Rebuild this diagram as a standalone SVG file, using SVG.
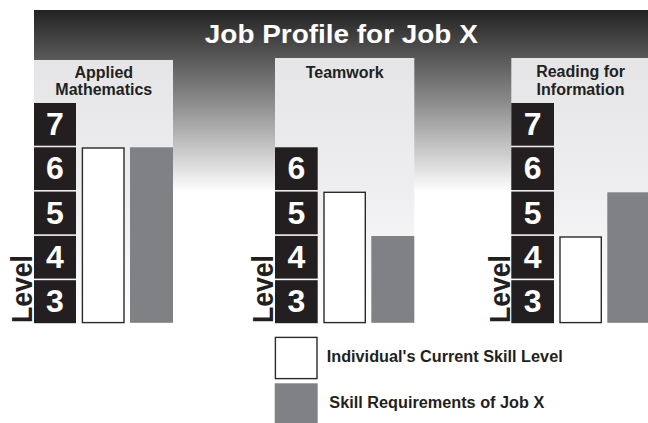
<svg xmlns="http://www.w3.org/2000/svg" width="648" height="423" viewBox="0 0 648 423">
<defs>
<linearGradient id="bg" x1="0" y1="10" x2="0" y2="192" gradientUnits="userSpaceOnUse">
<stop offset="0" stop-color="#222222"/>
<stop offset="0.5" stop-color="#8a8a8b"/>
<stop offset="0.8" stop-color="#cfcfd0"/>
<stop offset="1" stop-color="#ffffff"/>
</linearGradient>
<linearGradient id="pn" x1="0" y1="58" x2="0" y2="323" gradientUnits="userSpaceOnUse">
<stop offset="0" stop-color="#e5e5e7"/>
<stop offset="0.5" stop-color="#eeeef0"/>
<stop offset="1" stop-color="#ffffff"/>
</linearGradient>
</defs>
<style>
.lv{fill:#231f20}
.dg{font-family:"Liberation Sans",Arial,sans-serif;font-weight:bold;font-size:32px;fill:#ffffff;text-anchor:middle}
.hd{font-family:"Liberation Sans",Arial,sans-serif;font-weight:bold;font-size:16px;fill:#231f20;text-anchor:middle}
.lvl{font-family:"Liberation Sans",Arial,sans-serif;font-weight:bold;font-size:30px;fill:#231f20}
.cur{fill:#ffffff;stroke:#2a2a2a;stroke-width:1.4}
.req{fill:#808184}
.lg{font-family:"Liberation Sans",Arial,sans-serif;font-weight:bold;font-size:16px;fill:#231f20}
</style>
<rect x="0" y="0" width="648" height="423" fill="#ffffff"/>
<g id="banner">
<rect x="34" y="10" width="614" height="185" fill="url(#bg)"/>
<text x="341.3" y="43" font-family="'Liberation Sans',Arial,sans-serif" font-weight="bold" font-size="26" fill="#ffffff" text-anchor="middle" textLength="273" lengthAdjust="spacingAndGlyphs">Job Profile for Job X</text>
</g>
<g id="panel-applied-mathematics">
<rect x="34" y="60" width="139" height="263" fill="url(#pn)"/>
<text class="hd" x="103.8" y="77.5">Applied</text>
<text class="hd" x="103.8" y="95">Mathematics</text>
<rect class="lv" x="34" y="103" width="42" height="42.7"/>
<rect class="lv" x="34" y="147.3" width="42" height="42.7"/>
<rect class="lv" x="34" y="191.6" width="42" height="42.7"/>
<rect class="lv" x="34" y="235.9" width="42" height="42.7"/>
<rect class="lv" x="34" y="280.2" width="42" height="43"/>
<text class="dg" x="55" y="135">7</text>
<text class="dg" x="55" y="179.3">6</text>
<text class="dg" x="55" y="223.6">5</text>
<text class="dg" x="55" y="267.9">4</text>
<text class="dg" x="55" y="312.2">3</text>
<text class="lvl" transform="translate(32,323) rotate(-90)" textLength="68" lengthAdjust="spacingAndGlyphs">Level</text>
<rect class="cur" x="82.4" y="148" width="41.6" height="174.6"/>
<rect class="req" x="130" y="147.3" width="43" height="175.5"/>
</g>
<g id="panel-teamwork">
<rect x="275" y="58" width="139.3" height="265" fill="url(#pn)"/>
<text class="hd" x="344.7" y="78.3">Teamwork</text>
<rect class="lv" x="275" y="147.3" width="42.7" height="42.7"/>
<rect class="lv" x="275" y="191.6" width="42.7" height="42.7"/>
<rect class="lv" x="275" y="235.9" width="42.7" height="42.7"/>
<rect class="lv" x="275" y="280.2" width="42.7" height="43"/>
<text class="dg" x="296.3" y="179.3">6</text>
<text class="dg" x="296.3" y="223.6">5</text>
<text class="dg" x="296.3" y="267.9">4</text>
<text class="dg" x="296.3" y="312.2">3</text>
<text class="lvl" transform="translate(273.3,323) rotate(-90)" textLength="68" lengthAdjust="spacingAndGlyphs">Level</text>
<rect class="cur" x="324" y="192.3" width="41.3" height="130.3"/>
<rect class="req" x="371.3" y="236" width="43" height="86.8"/>
</g>
<g id="panel-reading-for-information">
<rect x="511.3" y="58" width="138.7" height="265" fill="url(#pn)"/>
<text class="hd" x="580.6" y="77.3">Reading for</text>
<text class="hd" x="580.6" y="94.5">Information</text>
<rect class="lv" x="511.3" y="103" width="42.7" height="42.7"/>
<rect class="lv" x="511.3" y="147.3" width="42.7" height="42.7"/>
<rect class="lv" x="511.3" y="191.6" width="42.7" height="42.7"/>
<rect class="lv" x="511.3" y="235.9" width="42.7" height="42.7"/>
<rect class="lv" x="511.3" y="280.2" width="42.7" height="43"/>
<text class="dg" x="532.6" y="135">7</text>
<text class="dg" x="532.6" y="179.3">6</text>
<text class="dg" x="532.6" y="223.6">5</text>
<text class="dg" x="532.6" y="267.9">4</text>
<text class="dg" x="532.6" y="312.2">3</text>
<text class="lvl" transform="translate(509.7,323) rotate(-90)" textLength="68" lengthAdjust="spacingAndGlyphs">Level</text>
<rect class="cur" x="560" y="237" width="41.3" height="85.6"/>
<rect class="req" x="607.3" y="192.3" width="43" height="130.5"/>
</g>
<g id="legend">
<rect class="cur" x="275.4" y="337.4" width="41.6" height="41.2"/>
<text class="lg" x="326.7" y="361.7" textLength="236" lengthAdjust="spacingAndGlyphs">Individual's Current Skill Level</text>
<rect class="req" x="274.7" y="383.3" width="43" height="39.7"/>
<text class="lg" x="329.3" y="408.3" textLength="215" lengthAdjust="spacingAndGlyphs">Skill Requirements of Job X</text>
</g>
<g id="connectors"/>
</svg>
